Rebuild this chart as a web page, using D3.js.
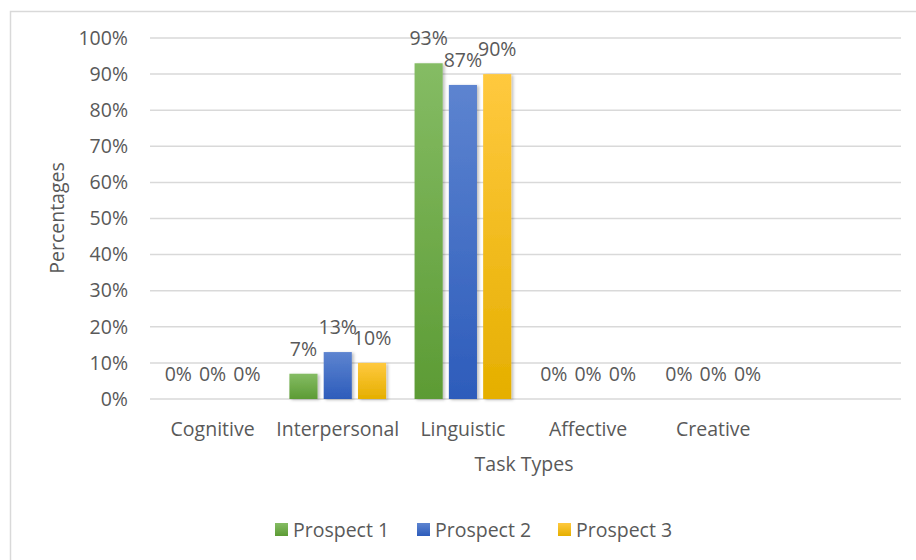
<!DOCTYPE html>
<html>
<head>
<meta charset="utf-8">
<script src="https://cdn.jsdelivr.net/npm/d3@7"></script>
<style>
  body { margin: 0; background: #fff; }
  svg { display: block; font-family: "Open Sans", sans-serif; }
</style>
</head>
<body>
<svg width="916" height="560"></svg>
<script>
// data
var categories = ["Cognitive", "Interpersonal", "Linguistic", "Affective", "Creative"];
var seriesNames = ["Prospect 1", "Prospect 2", "Prospect 3"];
var prospect1 = [0, 7, 93, 0, 0];
var prospect2 = [0, 13, 87, 0, 0];
var prospect3 = [0, 10, 90, 0, 0];
var yTicks = [0, 10, 20, 30, 40, 50, 60, 70, 80, 90, 100];

var seriesValues = [prospect1, prospect2, prospect3];
var colors = [
  { top: "#85bc64", bottom: "#5c9b34" },
  { top: "#5d84d0", bottom: "#2d5cbb" },
  { top: "#ffc93f", bottom: "#e5af00" }
];

var svg = d3.select("svg"),
    textColor = "#595959",
    fontSize = 19.5,
    plotLeft = 150,
    plotRight = 901,
    plotTop = 38,
    plotBottom = 399;

// chart frame (right/bottom edges run off the picture)
svg.append("rect")
  .attr("x", 10.5).attr("y", 11.5)
  .attr("width", 940).attr("height", 600)
  .attr("fill", "#fff")
  .attr("stroke", "#d9d9d9")
  .attr("stroke-width", 1.5);

var defs = svg.append("defs");
colors.forEach(function(c, i) {
  var g = defs.append("linearGradient")
    .attr("id", "grad" + i)
    .attr("x1", 0).attr("y1", 0).attr("x2", 0).attr("y2", 1);
  g.append("stop").attr("offset", "0%").attr("stop-color", c.top);
  g.append("stop").attr("offset", "100%").attr("stop-color", c.bottom);
});
var shadow = defs.append("filter").attr("id", "shadow")
  .attr("x", "-20%").attr("y", "-10%").attr("width", "150%").attr("height", "130%");
shadow.append("feDropShadow")
  .attr("dx", 2).attr("dy", 1).attr("stdDeviation", 1.5)
  .attr("flood-color", "#000").attr("flood-opacity", 0.25);

// the source sheet leaves an empty sixth slot on the category axis
var x0 = d3.scaleBand()
  .domain(categories.concat([""]))
  .range([plotLeft, plotRight])
  .paddingInner(0).paddingOuter(0);

var x1 = d3.scaleBand()
  .domain(seriesNames)
  .range([0, x0.bandwidth()])
  .paddingInner(0.18).paddingOuter(0.415);

var y = d3.scaleLinear().domain([0, 100]).range([plotBottom, plotTop]);

// gridlines
svg.append("g")
  .selectAll("line")
  .data(yTicks)
  .join("line")
  .attr("x1", plotLeft).attr("x2", plotRight)
  .attr("y1", function(d) { return y(d); })
  .attr("y2", function(d) { return y(d); })
  .attr("stroke", "#d9d9d9")
  .attr("stroke-width", 1.5);

// y axis labels
var yAxis = svg.append("g")
  .attr("transform", "translate(" + (plotLeft - 22) + ",0)")
  .call(d3.axisLeft(y).tickValues(yTicks).tickSize(0).tickPadding(0)
    .tickFormat(function(d) { return d + "%"; }));
yAxis.select(".domain").remove();
yAxis.selectAll("text")
  .attr("fill", textColor)
  .attr("font-size", fontSize)
  .attr("font-family", "Open Sans, sans-serif");

// x axis labels
var xAxis = svg.append("g")
  .attr("transform", "translate(0," + plotBottom + ")")
  .call(d3.axisBottom(x0).tickSize(0).tickPadding(23));
xAxis.select(".domain").remove();
xAxis.selectAll("text")
  .attr("fill", textColor)
  .attr("font-size", fontSize)
  .attr("font-family", "Open Sans, sans-serif");

// bars
var groups = svg.append("g")
  .selectAll("g")
  .data(seriesNames)
  .join("g")
  .attr("fill", function(d, i) { return "url(#grad" + i + ")"; });

groups.selectAll("rect")
  .data(function(s, i) {
    return categories.map(function(c, j) { return { cat: c, s: s, v: seriesValues[i][j] }; })
      .filter(function(d) { return d.v > 0; });
  })
  .join("rect")
  .attr("x", function(d) { return x0(d.cat) + x1(d.s); })
  .attr("y", function(d) { return y(d.v); })
  .attr("width", x1.bandwidth())
  .attr("height", function(d) { return y(0) - y(d.v); })
  .attr("filter", "url(#shadow)");

// value labels
groups.selectAll("text")
  .data(function(s, i) {
    return categories.map(function(c, j) { return { cat: c, s: s, v: seriesValues[i][j] }; });
  })
  .join("text")
  .attr("x", function(d) { return x0(d.cat) + x1(d.s) + x1.bandwidth() / 2; })
  .attr("y", function(d) { return y(d.v) - 18; })
  .attr("text-anchor", "middle")
  .attr("fill", textColor)
  .attr("font-size", fontSize)
  .text(function(d) { return d.v + "%"; });

// axis titles
svg.append("text")
  .attr("x", 524).attr("y", 471)
  .attr("text-anchor", "middle")
  .attr("fill", textColor)
  .attr("font-size", fontSize)
  .text("Task Types");

svg.append("text")
  .attr("transform", "translate(64,218) rotate(-90)")
  .attr("text-anchor", "middle")
  .attr("fill", textColor)
  .attr("font-size", fontSize)
  .text("Percentages");

// legend
var legendX = [275, 417, 558];
var legend = svg.append("g")
  .selectAll("g")
  .data(seriesNames)
  .join("g")
  .attr("transform", function(d, i) { return "translate(" + legendX[i] + ",523)"; });
legend.append("rect")
  .attr("width", 13).attr("height", 13)
  .attr("fill", function(d, i) { return "url(#grad" + i + ")"; });
legend.append("text")
  .attr("x", 18).attr("y", 14)
  .attr("fill", textColor)
  .attr("font-size", fontSize)
  .text(function(d) { return d; });
</script>
</body>
</html>
